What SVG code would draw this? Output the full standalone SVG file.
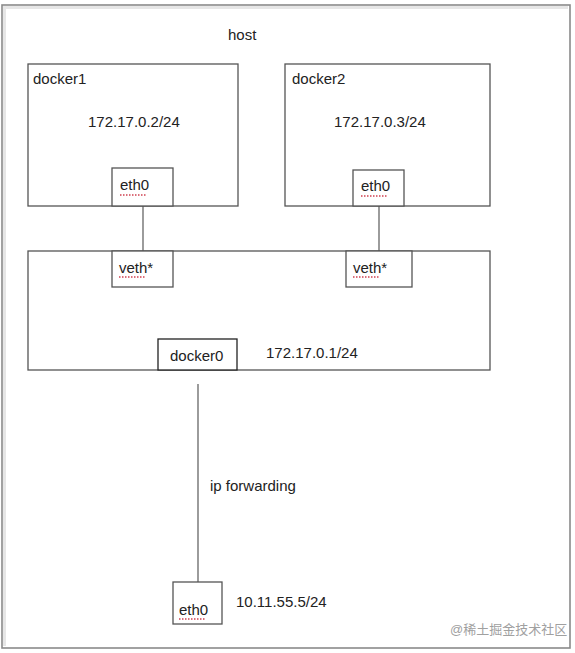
<svg xmlns="http://www.w3.org/2000/svg" width="575" height="653" viewBox="0 0 575 653">
<style>
text{font-family:"Liberation Sans",Arial,sans-serif;font-size:15px;fill:#222}
.box{fill:#fff;stroke:#555;stroke-width:1.3}
.dark{fill:#fff;stroke:#222;stroke-width:1.3}
.wire{stroke:#666;stroke-width:1.3;fill:none}
.sq{stroke:#d04050;stroke-width:1.3;stroke-dasharray:1.5 1.5;fill:none}
.wm{font-family:"Liberation Sans","Noto Sans CJK SC",sans-serif;font-size:13px;fill:#a0a0a0}
</style>
<rect x="0" y="0" width="575" height="653" fill="#fff"/>
<g id="host">
<rect x="2" y="5" width="568" height="643" fill="#fff" stroke="#8a8a8a" stroke-width="1.6"/>
<path d="M4.5 646 V7.5 H568" fill="none" stroke="#e6e6e6" stroke-width="3"/>
<text x="228" y="40">host</text>
</g>
<g id="connectors">
<line class="wire" x1="143" y1="206" x2="143" y2="251"/>
<line class="wire" x1="379" y1="206" x2="379" y2="251"/>
<line class="wire" x1="198" y1="384" x2="198" y2="582"/>
</g>
<g id="docker1">
<rect class="box" x="28" y="64" width="210" height="142"/>
<text x="33" y="84">docker1</text>
<text x="88" y="127">172.17.0.2/24</text>
</g>
<g id="docker1-eth0">
<rect class="box" x="112" y="168" width="61" height="38"/>
<text x="120" y="190">eth0</text>
<line class="sq" x1="120" y1="195" x2="147" y2="195"/>
</g>
<g id="docker2">
<rect class="box" x="285" y="64" width="205" height="142"/>
<text x="292" y="84">docker2</text>
<text x="334" y="127">172.17.0.3/24</text>
</g>
<g id="docker2-eth0">
<rect class="box" x="353" y="170" width="51" height="36"/>
<text x="361" y="191">eth0</text>
<line class="sq" x1="361" y1="196" x2="388" y2="196"/>
</g>
<g id="bridge">
<rect class="box" x="28" y="251" width="462" height="119"/>
<text x="266" y="358">172.17.0.1/24</text>
</g>
<g id="veth1">
<rect class="box" x="112" y="251" width="61" height="36"/>
<text x="119" y="273">veth*</text>
<line class="sq" x1="119" y1="277" x2="145" y2="277"/>
</g>
<g id="veth2">
<rect class="box" x="346" y="251" width="66" height="36"/>
<text x="353" y="273">veth*</text>
<line class="sq" x1="353" y1="277" x2="379" y2="277"/>
</g>
<g id="docker0">
<rect class="dark" x="158" y="339" width="79" height="31"/>
<text x="170" y="361">docker0</text>
</g>
<g id="ipfwd-label">
<text x="210" y="491">ip forwarding</text>
</g>
<g id="host-eth0">
<rect class="box" x="173" y="582" width="49" height="42"/>
<text x="179" y="615">eth0</text>
<line class="sq" x1="179" y1="619" x2="206" y2="619"/>
<text x="236" y="607">10.11.55.5/24</text>
</g>
<text class="wm" x="450" y="634">@稀土掘金技术社区</text>
</svg>
